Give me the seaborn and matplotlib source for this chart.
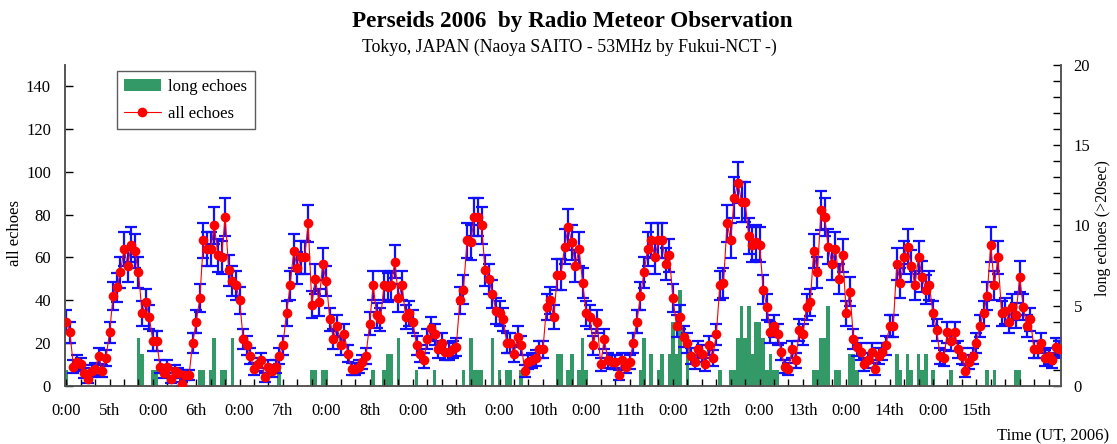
import numpy as np
import pandas as pd
import matplotlib
matplotlib.use("Agg")
import matplotlib.pyplot as plt
import seaborn as sns
from matplotlib.patches import Patch
from matplotlib.lines import Line2D
from matplotlib.ticker import MultipleLocator

# hourly counts from 5th 0:00 UT, one row per day
all_echoes = [
    30, 25, 9, 11, 10, 6, 3, 7, 8, 14, 7, 13, 25, 42, 46, 53, 64, 56, 66, 63, 53, 34, 39, 32,
    21, 21, 9, 6, 9, 3, 7, 6, 1, 5, 5, 20, 30, 41, 68, 64, 64, 75, 61, 60, 79, 54, 49, 47,
    40, 22, 19, 14, 8, 10, 12, 4, 9, 7, 9, 14, 19, 34, 47, 63, 55, 60, 60, 76, 38, 50, 39, 57,
    49, 31, 22, 28, 19, 24, 15, 8, 8, 9, 11, 14, 29, 47, 33, 31, 47, 46, 47, 58, 41, 47, 32, 34,
    30, 19, 15, 12, 22, 27, 24, 17, 20, 16, 16, 17, 18, 40, 45, 68, 67, 79, 79, 75, 54, 50, 43, 35,
    34, 31, 20, 20, 15, 23, 19, 7, 11, 12, 13, 17, 17, 37, 40, 32, 52, 52, 65, 74, 67, 56, 64, 48,
    34, 32, 19, 30, 10, 22, 12, 11, 11, 5, 12, 9, 11, 20, 30, 42, 53, 64, 68, 60, 68, 68, 57, 61,
    41, 28, 32, 23, 20, 14, 11, 17, 15, 10, 19, 13, 24, 47, 48, 76, 68, 88, 95, 86, 86, 70, 66, 67,
    66, 45, 37, 25, 28, 24, 16, 9, 8, 17, 12, 26, 24, 37, 39, 63, 53, 82, 79, 65, 57, 64, 50, 61,
    34, 44, 22, 18, 16, 10, 12, 16, 8, 14, 16, 19, 28, 28, 57, 48, 60, 65, 56, 47, 60, 51, 45, 47,
    34, 26, 14, 13, 25, 21, 25, 17, 14, 7, 11, 14, 20, 28, 34, 42, 66, 47, 60, 34, 35, 30, 37, 33,
    51, 37, 28, 31, 17, 17, 20, 13, 14, 12, 18, 17,
]

long_echoes = [
    1, 0, 0, 0, 0, 0, 0, 0, 0, 0, 0, 0, 0, 0, 0, 0, 0, 0, 0, 0, 3, 2, 0, 0,
    1, 1, 0, 0, 0, 0, 0, 0, 0, 0, 0, 0, 0, 1, 1, 0, 1, 3, 0, 1, 1, 0, 3, 0,
    0, 0, 0, 0, 0, 0, 0, 0, 0, 0, 0, 1, 0, 0, 0, 0, 0, 0, 0, 0, 1, 1, 0, 1,
    1, 0, 0, 0, 0, 0, 0, 0, 0, 0, 0, 0, 0, 1, 0, 0, 1, 2, 2, 0, 3, 0, 0, 0,
    0, 1, 0, 0, 0, 0, 1, 0, 0, 0, 0, 0, 0, 0, 1, 0, 3, 1, 1, 1, 0, 0, 3, 0,
    1, 0, 1, 1, 0, 0, 1, 0, 0, 0, 0, 0, 0, 0, 0, 0, 2, 2, 0, 1, 2, 0, 1, 3,
    1, 0, 0, 0, 0, 0, 0, 0, 0, 0, 0, 0, 0, 0, 0, 1, 3, 0, 2, 0, 1, 2, 0, 2,
    4, 2, 6, 0, 3, 0, 0, 0, 0, 0, 0, 0, 0, 1, 0, 0, 1, 1, 3, 5, 3, 5, 2, 4,
    4, 3, 1, 2, 1, 1, 0, 0, 0, 0, 0, 0, 0, 0, 0, 1, 1, 3, 3, 5, 0, 1, 1, 0,
    0, 2, 2, 1, 0, 0, 0, 0, 0, 0, 0, 0, 0, 0, 2, 1, 0, 2, 1, 0, 2, 1, 2, 0,
    1, 0, 0, 0, 0, 1, 0, 0, 0, 0, 0, 0, 0, 0, 0, 1, 0, 1, 0, 0, 0, 0, 0, 1,
    1, 0, 0, 0, 0, 0, 0, 0, 0, 0, 0, 0,
]

first_day = 5
last_label_day = 15

hours = list(range(len(all_echoes)))
label_hours = list(range(0, (last_label_day - first_day) * 24 + 13, 12))
label_text = ['0:00' if h % 24 == 0 else f'{first_day + h // 24}th' for h in label_hours]

df = pd.DataFrame({'hour': hours, 'all': all_echoes, 'long': long_echoes})
df['err'] = np.sqrt(df['all'])

sns.set_style('ticks')
plt.rcParams['font.family'] = ['Liberation Serif', 'DejaVu Serif']
plt.rcParams['text.color'] = 'black'
plt.rcParams['axes.labelcolor'] = 'black'
plt.rcParams['xtick.color'] = 'black'
plt.rcParams['ytick.color'] = 'black'

fig = plt.figure(figsize=(11.17, 4.44), dpi=100)
ax = fig.add_axes([0.058, 0.131, 0.892, 0.723])
ax2 = ax.twinx()

# long echoes as bars on the right axis
sns.histplot(x=df['hour'], weights=df['long'], discrete=True, color='#339966',
             alpha=1, linewidth=0, ax=ax2)

# all echoes with sqrt(N) error bars
ax.errorbar(df['hour'], df['all'], yerr=df['err'], fmt='none', ecolor='#1010ff',
            elinewidth=1.6, capsize=4.5, capthick=1.6, zorder=2)
sns.lineplot(data=df, x='hour', y='all', color='red', linewidth=0.8, marker='o',
             markersize=7, markeredgewidth=0, ax=ax, zorder=3)

ax.set_zorder(ax2.get_zorder() + 1)
ax.patch.set_visible(False)

ax.set_xlim(-0.4, len(hours) - 0.5)
ax.set_ylim(0, 150)
ax2.set_ylim(0, 20)

ax.set_yticks(range(0, 141, 20))
ax2.set_yticks(range(0, 21, 5))
ax2.yaxis.set_minor_locator(MultipleLocator(1))
ax.set_xticks(label_hours)
ax.set_xticklabels(label_text)
ax.xaxis.set_minor_locator(MultipleLocator(4))

ax.tick_params(axis='x', which='both', direction='in', length=5, width=1, pad=12, labelsize=12)
ax.tick_params(axis='y', direction='in', length=6, width=1, pad=10, labelsize=12)
ax2.tick_params(axis='y', which='both', direction='in', length=6, width=1, pad=9, labelsize=12)

for a in (ax, ax2):
    a.spines['top'].set_visible(False)
    for s in ('left', 'right', 'bottom'):
        a.spines[s].set_color('#555555')
        a.spines[s].set_linewidth(1.2)

ax.set_xlabel('')
ax.set_ylabel('')
ax2.set_xlabel('')
ax2.set_ylabel('')

fig.text(15 / 1117, 1 - 233 / 444, 'all echoes', rotation=90, ha='center', va='center', fontsize=12)
fig.text(1103 / 1117, 1 - 228 / 444, 'long echoes (>20sec)', rotation=90,
         ha='center', va='center', fontsize=11.5)
fig.text(0.993, 1 - 436 / 444, 'Time (UT, 2006)', ha='right', va='center', fontsize=12)
fig.text(0.512, 1 - 22 / 444, 'Perseids 2006  by Radio Meteor Observation',
         ha='center', va='center', fontsize=16.7, fontweight='bold')
fig.text(0.51, 1 - 47 / 444, 'Tokyo, JAPAN (Naoya SAITO - 53MHz by Fukui-NCT -)',
         ha='center', va='center', fontsize=12.8)

handles = [Patch(facecolor='#339966', edgecolor='none', label='long echoes'),
           Line2D([], [], color='red', linewidth=0.8, marker='o', markersize=7,
                  markeredgewidth=0, label='all echoes')]
leg = ax.legend(handles=handles, loc='upper left', bbox_to_anchor=(0.052, 0.98),
                fontsize=12, frameon=True, fancybox=False, handlelength=2.2,
                handletextpad=0.45, borderpad=0.45, labelspacing=0.65, borderaxespad=0)
leg.get_frame().set_edgecolor('#333333')
leg.get_frame().set_linewidth(1.0)

fig.savefig('out.png', dpi=100)
